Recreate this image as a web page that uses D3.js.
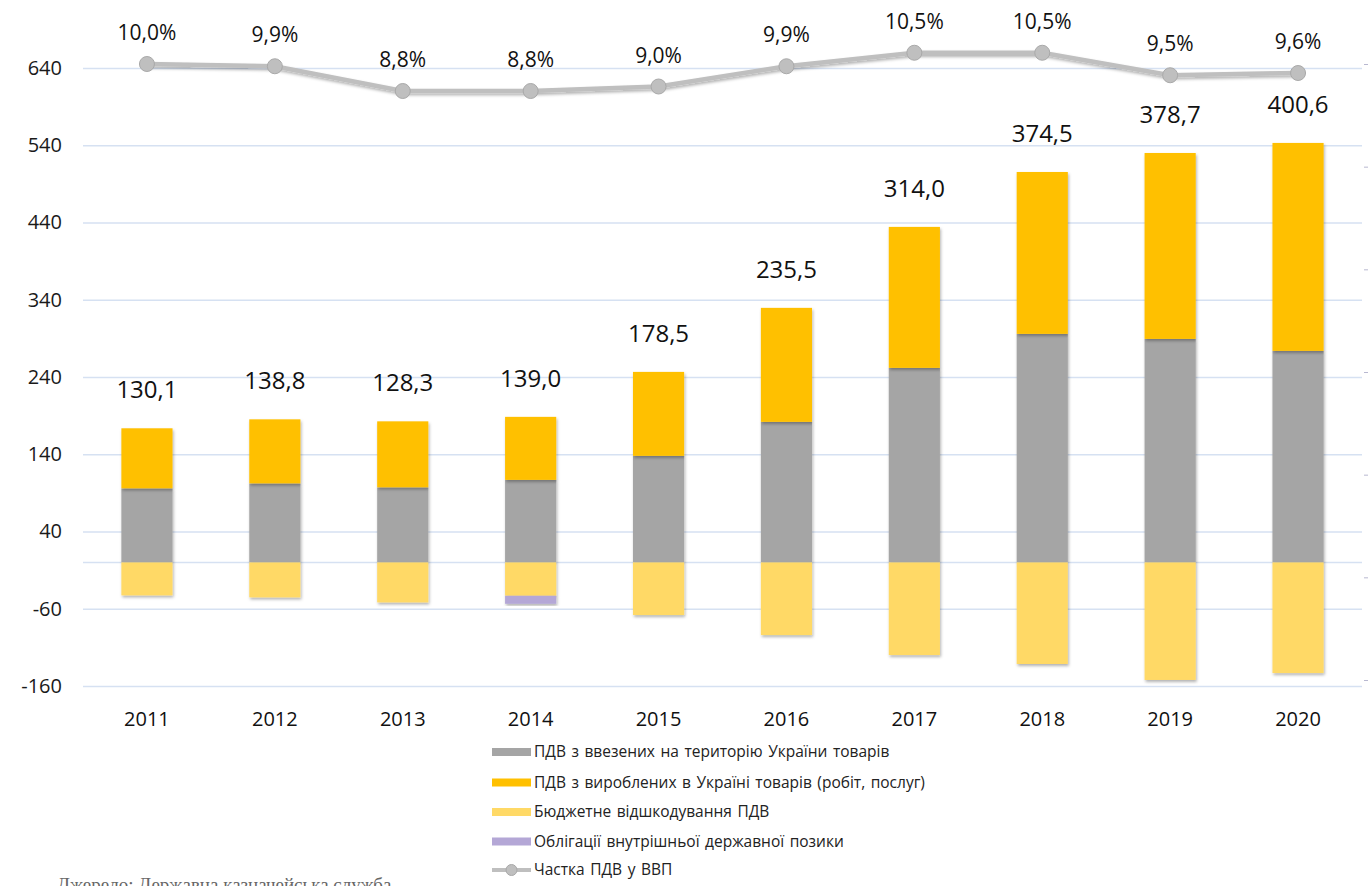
<!DOCTYPE html>
<html>
<head>
<meta charset="utf-8">
<script src="https://cdn.jsdelivr.net/npm/d3@7"></script>
<style>
  body { margin: 0; background: #fff; }
  svg { display: block; font-family: "Open Sans", sans-serif; }
</style>
</head>
<body>
<script>
// data (млрд грн)
const years = ["2011", "2012", "2013", "2014", "2015", "2016", "2017", "2018", "2019", "2020"];
const importVat = [95.9, 102.3, 97.2, 106.8, 137.9, 181.9, 251.8, 295.8, 289.3, 273.8];
const domesticVat = [77.7, 82.9, 85.4, 81.6, 108.7, 147.6, 182.5, 209.6, 240.7, 269.2];
const refundVat = [-42.7, -45.3, -51.8, -43.2, -68.1, -94.0, -119.9, -131.5, -152.2, -143.2];
const bondsVat = [0, 0, 0, -10.4, 0, 0, 0, 0, 0, 0];
const totalLabels = ["130,1", "138,8", "128,3", "139,0", "178,5", "235,5", "314,0", "374,5", "378,7", "400,6"];
const vatShare = [10.0, 9.9, 8.8, 8.8, 9.0, 9.9, 10.5, 10.5, 9.5, 9.6];
const yTicks = [-160, -60, 40, 140, 240, 340, 440, 540, 640];

const seriesNames = [
  "ПДВ з ввезених на територію України товарів",
  "ПДВ з вироблених в Україні товарів (робіт, послуг)",
  "Бюджетне відшкодування ПДВ",
  "Облігації внутрішньої державної позики",
  "Частка ПДВ у ВВП"
];
const keys = ["imp", "dom", "ref", "bond"];
const colors = { imp: "#A5A5A5", dom: "#FFC000", ref: "#FFD966", bond: "#B4A7D6" };

const rows = years.map((y, i) => ({
  year: y, imp: importVat[i], dom: domesticVat[i], ref: refundVat[i], bond: bondsVat[i]
}));

const width = 1371;
const height = 886;

const svg = d3.select("body").append("svg")
  .attr("width", width)
  .attr("height", height);

const defs = svg.append("defs");
const shadow = defs.append("filter").attr("id", "shadow")
  .attr("x", "-10%").attr("y", "-10%").attr("width", "130%").attr("height", "130%");
shadow.append("feDropShadow")
  .attr("dx", 1).attr("dy", 2).attr("stdDeviation", 1.5)
  .attr("flood-color", "#000").attr("flood-opacity", 0.3);

// scales
const x = d3.scaleBand().domain(years).range([83, 1362]).paddingInner(0.6).paddingOuter(0.3);
const y = d3.scaleLinear().domain([-160, 640]).range([686, 68]);
const yPct = d3.scaleLinear().domain([0, 10]).range([289, 64]);
const yRight = d3.scaleLinear().domain([0, 12]).range([680, 64]);

// gridlines + left axis
const yAxis = svg.append("g")
  .attr("transform", "translate(83,0)")
  .call(d3.axisLeft(y).tickValues(yTicks).tickSize(-1279).tickPadding(21).tickFormat(d => d));
yAxis.select(".domain").remove();
yAxis.selectAll(".tick line").attr("stroke", "#D6E1F2").attr("stroke-width", 1.5);
yAxis.selectAll(".tick text")
  .attr("fill", "#1a1a1a").style("font-size", "20px").style("font-family", "Open Sans");

// zero line
svg.append("line")
  .attr("x1", 83).attr("x2", 1362)
  .attr("y1", y(0)).attr("y2", y(0))
  .attr("stroke", "#D6E1F2").attr("stroke-width", 1.5);

// tiny right axis ticks
const rAxis = svg.append("g")
  .attr("transform", "translate(1364,0)")
  .call(d3.axisRight(yRight).ticks(6).tickSize(4).tickFormat(""));
rAxis.select(".domain").remove();
rAxis.selectAll(".tick line").attr("stroke", "#B8B8D0");

// stacked bars
const stack = d3.stack().keys(keys).offset(d3.stackOffsetDiverging);
const stacked = stack(rows);

svg.append("g")
  .selectAll("g")
  .data(stacked)
  .join("g")
  .attr("fill", d => colors[d.key])
  .attr("filter", "url(#shadow)")
  .selectAll("rect")
  .data(d => d)
  .join("rect")
  .attr("x", d => x(d.data.year))
  .attr("width", x.bandwidth())
  .attr("y", d => y(Math.max(d[0], d[1])))
  .attr("height", d => Math.abs(y(d[0]) - y(d[1])));

// total labels
const tops = rows.map(r => r.imp + r.dom);
svg.append("g")
  .selectAll("text")
  .data(years)
  .join("text")
  .attr("x", d => x(d) + x.bandwidth() / 2)
  .attr("y", (d, i) => y(tops[i]) - 30)
  .attr("text-anchor", "middle")
  .attr("fill", "#111")
  .style("font-size", "24px")
  .text((d, i) => totalLabels[i]);

// x labels
svg.append("g")
  .selectAll("text")
  .data(years)
  .join("text")
  .attr("x", d => x(d) + x.bandwidth() / 2)
  .attr("y", 726)
  .attr("text-anchor", "middle")
  .attr("fill", "#111")
  .style("font-size", "20px")
  .text(d => d);

// VAT share line
const cx = d => x(d) + x.bandwidth() / 2;
const line = d3.line().x((d, i) => cx(years[i])).y(d => yPct(d));

svg.append("path")
  .datum(vatShare)
  .attr("d", line)
  .attr("fill", "none")
  .attr("stroke", "#BFBFBF")
  .attr("stroke-width", 4.5)
  .attr("filter", "url(#shadow)");

svg.append("g")
  .selectAll("circle")
  .data(vatShare)
  .join("circle")
  .attr("cx", (d, i) => cx(years[i]))
  .attr("cy", d => yPct(d))
  .attr("r", 7.5)
  .attr("fill", "#BFBFBF")
  .attr("stroke", "#A9A9A9")
  .attr("stroke-width", 1);

svg.append("g")
  .selectAll("text")
  .data(vatShare)
  .join("text")
  .attr("x", (d, i) => cx(years[i]))
  .attr("y", d => yPct(d) - 24)
  .attr("text-anchor", "middle")
  .attr("fill", "#111")
  .style("font-size", "21px")
  .text(d => d.toFixed(1).replace(".", ",") + "%");

// legend
const legendX = 492;
const legendRows = [752, 782.5, 812, 841.5, 870];
const legend = svg.append("g");
seriesNames.forEach((name, i) => {
  const ly = legendRows[i];
  if (i < 4) {
    legend.append("rect")
      .attr("x", legendX).attr("y", ly - 4)
      .attr("width", 39).attr("height", 8)
      .attr("fill", colors[keys[i]]);
  } else {
    legend.append("line")
      .attr("x1", legendX).attr("x2", legendX + 39)
      .attr("y1", ly).attr("y2", ly)
      .attr("stroke", "#BFBFBF").attr("stroke-width", 4);
    legend.append("circle")
      .attr("cx", legendX + 19.5).attr("cy", ly).attr("r", 5.5)
      .attr("fill", "#BFBFBF").attr("stroke", "#A9A9A9");
  }
  legend.append("text")
    .attr("x", legendX + 42)
    .attr("y", ly)
    .attr("dy", "0.35em")
    .attr("fill", "#222")
    .style("font-size", "15.5px")
    .style("word-spacing", "1.5px")
    .text(name);
});

// source (cut off at the bottom, as in the original)
svg.append("text")
  .attr("x", 57)
  .attr("y", 891)
  .attr("fill", "#666")
  .style("font-family", "Liberation Serif, serif")
  .style("font-size", "19px")
  .text("Джерело: Державна казначейська служба");
</script>
</body>
</html>
